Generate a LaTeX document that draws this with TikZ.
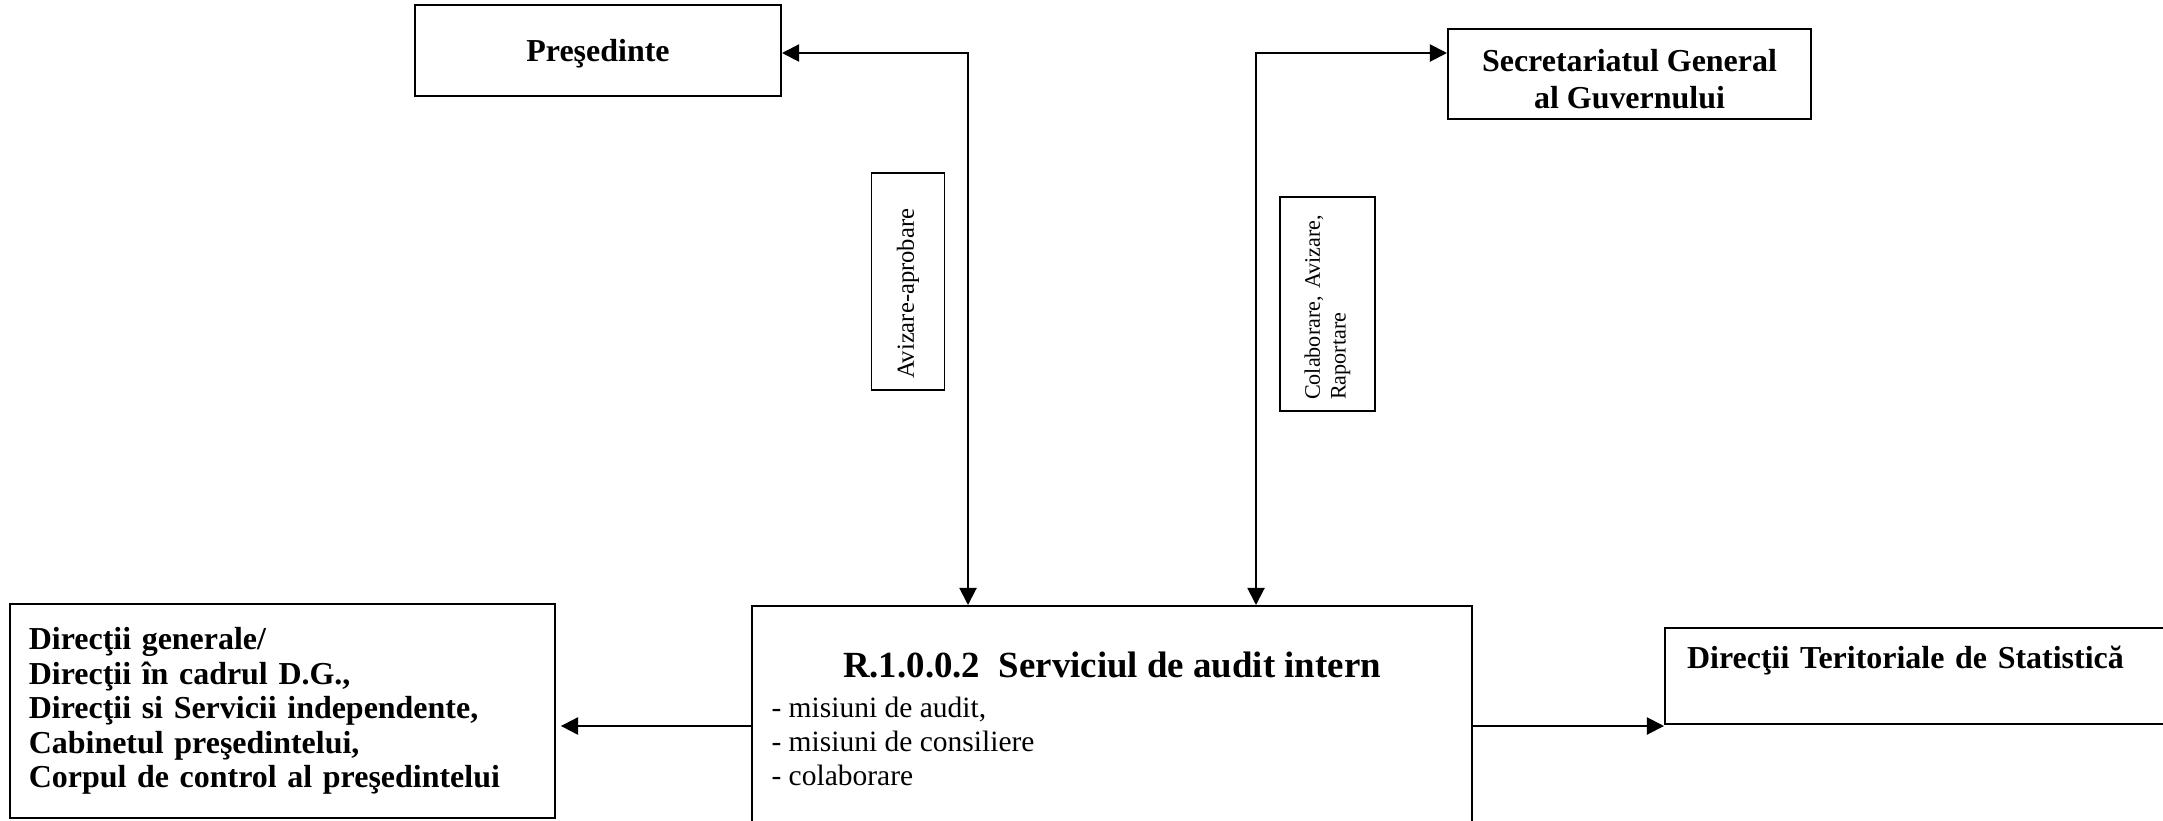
\documentclass[tikz,border=0pt]{standalone}
\usepackage{fontspec}
\setmainfont{Liberation Serif}
\usetikzlibrary{arrows.meta, calc, positioning}
\tikzset{
    boxstyle/.style={draw, line width=0.8pt, inner sep=0pt, font=\fontsize{13}{15}\selectfont\bfseries},
    notestyle/.style={draw, line width=0.8pt, rotate=90, align=left, inner xsep=4.5pt, inner ysep=0pt},
    arrowstyle/.style={-{Triangle[length=7pt, width=7pt]}, line width=0.8pt},
    dblarrowstyle/.style={{Triangle[length=7pt, width=7pt]}-{Triangle[length=7pt, width=7pt]}, line width=0.8pt}
}

\begin{document}
\begin{tikzpicture}[x=0.4068pt, y=-0.4068pt]

        \useasboundingbox (0,0) rectangle (2163,820);

        % ================= TOP ROW =================
        \node[boxstyle, minimum width=148.9pt, minimum height=37pt, text depth=0pt] (pres) at (598,50.5) {Preşedinte};
        \node[boxstyle, minimum width=147.7pt, minimum height=36.6pt, align=center] (sgg) at (1629.5,74) {\rule{0pt}{13.4pt}Secretariatul General\\al Guvernului};

        % Relation labels
        \node[notestyle, minimum height=29.7pt, text width=79.3pt, font=\fontsize{10}{12}\selectfont] (avz) at (908,281.5) {Avizare-aprobare};
        \node[notestyle, minimum height=38.6pt, text width=78pt, font=\fontsize{9}{10.5}\selectfont] (colab) at (1327.5,304) {Colaborare, Avizare,\\Raportare};

        % ================= BOTTOM ROW =================
        \node[boxstyle, anchor=north, minimum width=292.9pt, minimum height=110pt] (audit) at (1112,605) {};
        \node[font=\fontsize{15}{18}\selectfont\bfseries, anchor=base] (audittitle) at ($(audit.north)+(0,72)$) {R.1.0.0.2\ \ Serviciul de audit intern};
        \node[font=\fontsize{12}{13.8}\selectfont, anchor=north west, align=left, inner sep=0pt] (audititems) at ($(audit.north west)+(20,92)$) {- misiuni de audit,\\- misiuni de consiliere\\- colaborare};

        \node[boxstyle, minimum width=221.7pt, minimum height=87pt, text width=206.4pt, align=left, font=\fontsize{13}{14}\selectfont\bfseries] (dir) at (282.5,711) {Direcţii generale/\\Direcţii în cadrul D.G.,\\Direcţii si Servicii independente,\\Cabinetul preşedintelui,\\Corpul de control al preşedintelui};

        \node[boxstyle, anchor=north west, minimum width=227.8pt, minimum height=39pt, text width=209.8pt, align=left] (dts) at (1664,627) {\rule{0pt}{13.5pt}Direcţii Teritoriale de Statistică\\ \strut};

        % --- Connectors ---
        \coordinate (presturn) at (968,53);
        \coordinate (sggturn) at (1256,53);
        \coordinate (midrow) at (0,726);

        \draw[dblarrowstyle] (pres.east |- presturn) -- (presturn) -- (presturn |- audit.north);
        \draw[dblarrowstyle] (sgg.west |- sggturn) -- (sggturn) -- (sggturn |- audit.north);
        \draw[arrowstyle, shorten >=2pt] (audit.west |- midrow) -- (dir.east |- midrow);
        \draw[arrowstyle] (audit.east |- midrow) -- (dts.west |- midrow);

\end{tikzpicture}
\end{document}
